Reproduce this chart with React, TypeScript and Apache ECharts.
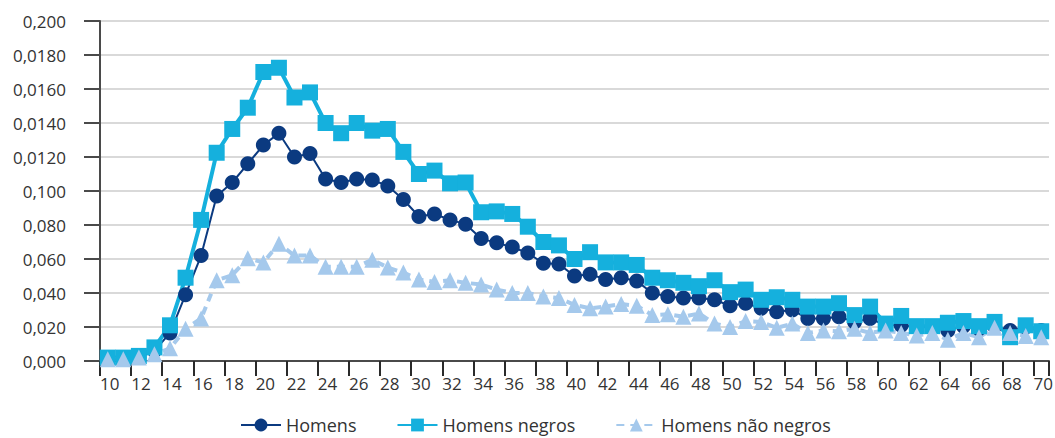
import React, { useEffect, useRef } from "react";
import * as echarts from "echarts";

const ages: string[] = [];
for (let a = 10; a <= 70; a++) ages.push(String(a));

const yTickLabels = ["0,000", "0,020", "0,040", "0,060", "0,080", "0,100", "0,0120", "0,0140", "0,0160", "0,0180", "0,200"];

const homens = [
  0.001, 0.001, 0.002, 0.006, 0.0165, 0.039, 0.062, 0.097, 0.105, 0.116,
  0.127, 0.134, 0.12, 0.122, 0.107, 0.105, 0.107, 0.1065, 0.103, 0.095,
  0.085, 0.0865, 0.083, 0.0805, 0.072, 0.0695, 0.067, 0.0635, 0.0575, 0.057,
  0.05, 0.051, 0.048, 0.049, 0.047, 0.04, 0.038, 0.037, 0.037, 0.036,
  0.0325, 0.034, 0.031, 0.029, 0.03, 0.025, 0.025, 0.026, 0.023, 0.025,
  0.021, 0.021, 0.02, 0.02, 0.018, 0.0205, 0.019, 0.0205, 0.018, 0.02,
  0.018,
];

const homensNegros = [
  0.002, 0.002, 0.003, 0.008, 0.021, 0.049, 0.083, 0.1225, 0.1365, 0.149,
  0.17, 0.1725, 0.155, 0.158, 0.14, 0.134, 0.14, 0.1355, 0.1365, 0.123,
  0.11, 0.112, 0.1045, 0.105, 0.0875, 0.088, 0.0865, 0.079, 0.07, 0.068,
  0.06, 0.064, 0.058, 0.058, 0.0565, 0.049, 0.0475, 0.046, 0.044, 0.0475,
  0.0405, 0.042, 0.036, 0.0375, 0.036, 0.032, 0.032, 0.034, 0.027, 0.032,
  0.022, 0.0265, 0.0205, 0.0205, 0.0225, 0.0235, 0.0205, 0.023, 0.014, 0.021,
  0.0175,
];

const homensNaoNegros = [
  0.001, 0.001, 0.002, 0.004, 0.0075, 0.019, 0.025, 0.0475, 0.0505, 0.0605,
  0.058, 0.069, 0.062, 0.062, 0.0555, 0.0555, 0.0555, 0.0595, 0.055, 0.052,
  0.048, 0.0465, 0.0475, 0.046, 0.045, 0.042, 0.04, 0.04, 0.038, 0.037,
  0.033, 0.031, 0.032, 0.0335, 0.0325, 0.027, 0.0275, 0.026, 0.028, 0.022,
  0.02, 0.0235, 0.023, 0.0195, 0.022, 0.0165, 0.018, 0.0175, 0.019, 0.0165,
  0.018, 0.0165, 0.015, 0.0165, 0.0125, 0.0165, 0.014, 0.0195, 0.0165, 0.0147,
  0.014,
];

const FONT = "'Open Sans', 'Noto Sans', sans-serif";
const AXIS_COLOR = "#4a4a4a";
const TEXT_COLOR = "#333333";

export default function App() {
  const ref = useRef<HTMLDivElement>(null);

  useEffect(() => {
    if (!ref.current) return;
    const chart = echarts.init(ref.current, null, { renderer: "svg" });
    chart.setOption({
      animation: false,
      backgroundColor: "#ffffff",
      textStyle: { fontFamily: FONT },
      grid: { left: 100, right: 6, top: 21, bottom: 77, outerBoundsMode: "none" },
      legend: {
        left: 240,
        top: 415,
        padding: 0,
        itemWidth: 40,
        itemHeight: 16,
        itemGap: 40,
        textStyle: { fontSize: 18, lineHeight: 20, color: TEXT_COLOR, fontFamily: FONT },
        data: ["Homens", "Homens negros", "Homens não negros"],
      },
      xAxis: {
        type: "category",
        data: ages,
        boundaryGap: true,
        axisLine: { show: true, lineStyle: { color: AXIS_COLOR, width: 2 } },
        axisTick: { show: true, interval: 1, length: 15, lineStyle: { color: "#2a2a2a", width: 2 } },
        axisLabel: {
          interval: 1,
          margin: 14,
          fontSize: 17,
          color: TEXT_COLOR,
          fontFamily: FONT,
          padding: [0, 0, 0, 4],
        },
        splitLine: { show: false },
      },
      yAxis: {
        type: "value",
        min: 0,
        max: 0.2,
        interval: 0.02,
        axisLine: { show: true, lineStyle: { color: AXIS_COLOR, width: 2 } },
        axisTick: { show: true, length: 16, lineStyle: { color: AXIS_COLOR, width: 2 } },
        axisLabel: {
          margin: 34,
          fontSize: 17,
          color: TEXT_COLOR,
          fontFamily: FONT,
          formatter: (v: number) => yTickLabels[Math.round(v / 0.02)] ?? "",
        },
        splitLine: { show: true, lineStyle: { color: "#d9d9d9", width: 2 } },
      },
      series: [
        {
          name: "Homens",
          type: "line",
          data: homens,
          symbol: "circle",
          symbolSize: 15,
          showAllSymbol: true,
          itemStyle: { color: "#0b3a80" },
          lineStyle: { color: "#0b3a80", width: 2 },
        },
        {
          name: "Homens negros",
          type: "line",
          data: homensNegros,
          symbol: "rect",
          symbolSize: 16,
          showAllSymbol: true,
          itemStyle: { color: "#15b0dd" },
          lineStyle: { color: "#15b0dd", width: 4 },
        },
        {
          name: "Homens não negros",
          type: "line",
          data: homensNaoNegros,
          symbol: "triangle",
          symbolSize: 16,
          showAllSymbol: true,
          itemStyle: { color: "#a5c9ec" },
          lineStyle: { color: "#a5c9ec", width: 4, type: [8, 6] },
        },
      ],
    });
    return () => chart.dispose();
  }, []);

  return (
    <div
      ref={ref}
      style={{ position: "fixed", left: 0, top: 0, width: 1055, height: 438, background: "#fff" }}
    />
  );
}
